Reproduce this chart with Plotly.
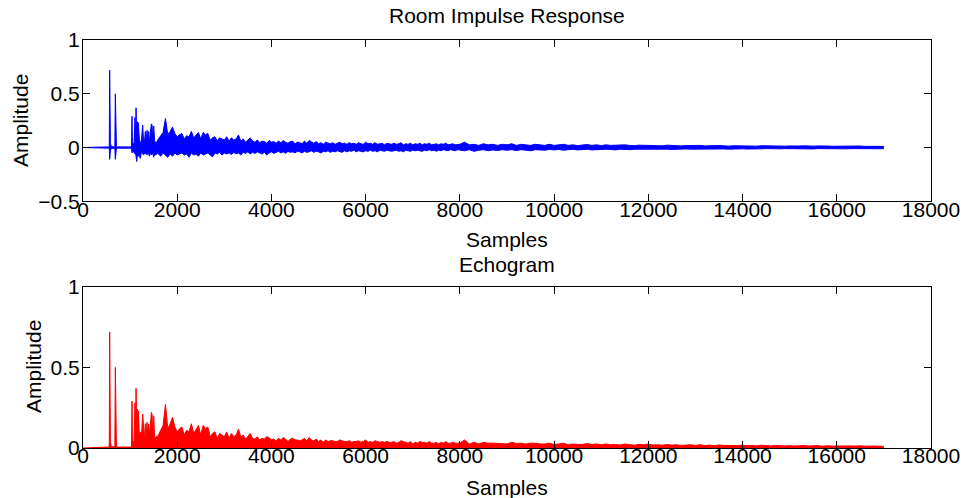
import plotly.graph_objects as go
from plotly.subplots import make_subplots

# ---------------- data ----------------
# early, sparse part: explicit sample positions with local max / min amplitude
early_samples = [0, 500, 558, 566, 572, 582, 600, 676, 686, 694, 710, 1030, 1040, 1050,
                 1062, 1083, 1104, 1115, 1126, 1140, 1154, 1165, 1175, 1196, 1218, 1239,
                 1267, 1288, 1305, 1324, 1340, 1359, 1375, 1395, 1410, 1430, 1451, 1466,
                 1480, 1501, 1520, 1550, 1575]
early_upper = [0, .004, .006, .72, .06, .04, .01, .006, .50, .02, .006, .006, .29, .03,
               .04, .03, .28, .05, .37, .10, .24, .08, .23, .08, .04, .06,
               .21, .03, .06, .15, .05, .16, .08, .15, .05, .14, .22, .21,
               .08, .20, .06, .04, .07]
early_lower = [0, -.004, -.006, -.11, -.04, -.03, -.01, -.006, -.11, -.02, -.006, -.006, -.05, -.04,
               -.03, -.04, -.06, -.05, -.09, -.13, -.07, -.05, -.08, -.08, -.10, -.04,
               -.06, -.07, -.05, -.06, -.04, -.07, -.05, -.06, -.08, -.05, -.07, -.06,
               -.05, -.09, -.06, -.07, -.05]

# dense part 1: every 50 samples from 1600 to 7950
dense1_samples = list(range(1600, 8000, 50))
dense1_upper = [
    .08, .11, .14, .27, .12, .15, .19, .13, .10, .12,
    .13, .08, .11, .10, .15, .09, .12, .14, .08, .14,
    .12, .13, .07, .09, .10, .06, .09, .08, .07, .10,
    .06, .09, .07, .08, .117, .06, .08, .05, .07, .09,
    .06, .05, .07, .045, .06, .055, .04, .065, .05, .055,
    .04, .06, .045, .065, .05, .04, .055, .06, .035, .05,
    .045, .035, .06, .04, .065, .05, .04, .055, .035, .045,
    .03, .05, .04, .035, .045, .03, .04, .05, .035, .04,
    .03, .045, .035, .04, .03, .045, .035, .03, .05, .035,
    .04, .03, .045, .03, .035, .04, .025, .04, .035, .03,
    .04, .03, .035, .045, .025, .035, .03, .04, .025, .035,
    .03, .04, .025, .035, .03, .04, .025, .03, .035, .025,
    .035, .03, .04, .025, .03, .035, .025, .03]
dense1_lower = [
    -.06, -.08, -.05, -.07, -.09, -.06, -.08, -.05, -.07, -.06,
    -.05, -.07, -.06, -.09, -.05, -.07, -.06, -.08, -.05, -.07,
    -.06, -.05, -.07, -.085, -.05, -.06, -.045, -.07, -.05, -.06,
    -.05, -.065, -.045, -.06, -.05, -.07, -.045, -.055, -.04, -.06,
    -.045, -.055, -.04, -.05, -.06, -.045, -.07, -.05, -.04, -.055,
    -.045, -.035, -.05, -.04, -.055, -.035, -.045, -.04, -.05, -.035,
    -.04, -.05, -.035, -.045, -.04, -.03, -.045, -.035, -.04, -.05,
    -.035, -.04, -.03, -.045, -.035, -.04, -.03, -.035, -.045, -.03,
    -.04, -.03, -.035, -.025, -.04, -.03, -.035, -.04, -.03, -.035,
    -.025, -.035, -.03, -.04, -.025, -.03, -.035, -.025, -.03, -.035,
    -.03, -.025, -.035, -.03, -.04, -.025, -.03, -.035, -.025, -.03,
    -.025, -.03, -.035, -.025, -.03, -.02, -.03, -.025, -.035, -.025,
    -.03, -.02, -.025, -.03, -.02, -.025, -.03, -.02]

# dense part 2: every 100 samples from 8000 to 17000
dense2_samples = list(range(8000, 17001, 100))
dense2_upper = [
    .03, .05, .025, .03, .02, .035, .025, .03, .02, .03,
    .025, .035, .02, .03, .025, .02, .03, .025, .02, .03,
    .02, .025, .03, .02, .025, .018, .022, .028, .02, .025,
    .018, .025, .02, .022, .018, .025, .02, .017, .022, .02,
    .025, .018, .02, .016, .022, .018, .02, .015, .018, .02,
    .016, .02, .015, .018, .014, .019, .016, .013, .017, .015,
    .018, .014, .016, .013, .017, .015, .012, .016, .014, .013,
    .015, .012, .014, .016, .012, .013, .015, .011, .014, .012,
    .013, .015, .011, .013, .012, .014, .011, .013, .012, .011,
    .01]
dense2_lower = [
    -.025, -.03, -.02, -.035, -.025, -.02, -.03, -.022, -.028, -.02,
    -.025, -.02, -.028, -.02, -.025, -.03, -.02, -.022, -.025, -.018,
    -.022, -.018, -.025, -.02, -.017, -.022, -.02, -.016, -.022, -.018,
    -.02, -.016, -.018, -.022, -.015, -.018, -.02, -.016, -.015, -.019,
    -.016, -.018, -.014, -.017, -.015, -.018, -.014, -.016, -.013, -.015,
    -.014, -.012, -.015, -.013, -.014, -.011, -.013, -.015, -.012, -.013,
    -.012, -.014, -.011, -.013, -.012, -.01, -.013, -.011, -.012, -.01,
    -.011, -.012, -.01, -.012, -.011, -.013, -.01, -.011, -.012, -.01,
    -.011, -.01, -.012, -.01, -.011, -.009, -.011, -.01, -.009, -.011,
    -.01]

x_ticks = [0, 2000, 4000, 6000, 8000, 10000, 12000, 14000, 16000, 18000]
y_ticks_top = [-0.5, 0, 0.5, 1]
y_ticks_bottom = [0, 0.5, 1]

# ---------------- assemble ----------------
samples = early_samples + dense1_samples + dense2_samples
upper = early_upper + dense1_upper + dense2_upper
lower = early_lower + dense1_lower + dense2_lower
echogram = [max(u, -l) for u, l in zip(upper, lower)]

FONT = "Liberation Sans, Arial, Helvetica, sans-serif"
FS = 21

fig = make_subplots(rows=2, cols=1, vertical_spacing=0.0)

blue = "#0000FF"
red = "#FF0000"
fig.add_trace(go.Scatter(x=samples, y=lower, mode="lines", line=dict(color=blue, width=1),
                         hoverinfo="skip"), row=1, col=1)
fig.add_trace(go.Scatter(x=samples, y=upper, mode="lines", line=dict(color=blue, width=1),
                         fill="tonexty", fillcolor=blue, hoverinfo="skip"), row=1, col=1)
fig.add_trace(go.Scatter(x=samples, y=echogram, mode="lines", line=dict(color=red, width=1),
                         fill="tozeroy", fillcolor=red, hoverinfo="skip"), row=2, col=1)

axis_common = dict(showline=True, linecolor="black", linewidth=1, mirror="ticks",
                   ticks="inside", ticklen=7, tickcolor="black", tickwidth=1,
                   showgrid=False, zeroline=False, automargin=False,
                   tickfont=dict(family=FONT, size=FS, color="black"))

fig.update_xaxes(range=[0, 18000], tickvals=x_ticks, ticklabelstandoff=-11,
                 ticktext=[str(v) for v in x_ticks], **axis_common)
fig.update_yaxes(range=[-0.5, 1], tickvals=y_ticks_top, ticklabelstandoff=-2,
                 ticktext=["\u22120.5", "0", "0.5", "1"], row=1, col=1, **axis_common)
fig.update_yaxes(range=[0, 1], tickvals=y_ticks_bottom, ticklabelstandoff=-2,
                 ticktext=["0", "0.5", "1"], row=2, col=1, **axis_common)

H_PLOT = 498 - 40 - 50
fig.update_layout(
    width=966, height=498,
    margin=dict(l=83, r=35, t=40, b=50),
    paper_bgcolor="white", plot_bgcolor="white",
    showlegend=False,
    font=dict(family=FONT, size=FS, color="black"),
    xaxis=dict(domain=[0, 1]),
    yaxis=dict(domain=[1 - 161.3 / H_PLOT, 1]),
    xaxis2=dict(domain=[0, 1]),
    yaxis2=dict(domain=[0, 1 - 246.7 / H_PLOT]),
)

def py(pix):
    return 1 - (pix - 40) / H_PLOT

def px(pix):
    return (pix - 83) / (966 - 83 - 35)

ann = [
    ("Room Impulse Response", 507, 16, 0),
    ("Samples", 507, 239, 0),
    ("Echogram", 507, 264, 0),
    ("Samples", 507, 487, 0),
    ("Amplitude", 21, 121, -90),
    ("Amplitude", 33, 367, -90),
]
for text, xp, yp, ang in ann:
    fig.add_annotation(text=text, x=px(xp), y=py(yp), xref="paper", yref="paper",
                       showarrow=False, xanchor="center", yanchor="middle",
                       textangle=ang, font=dict(family=FONT, size=FS, color="black"))

fig.write_html("out.html", config={"displayModeBar": False},
               post_script="document.body.style.margin='0';document.body.style.overflow='hidden';")
